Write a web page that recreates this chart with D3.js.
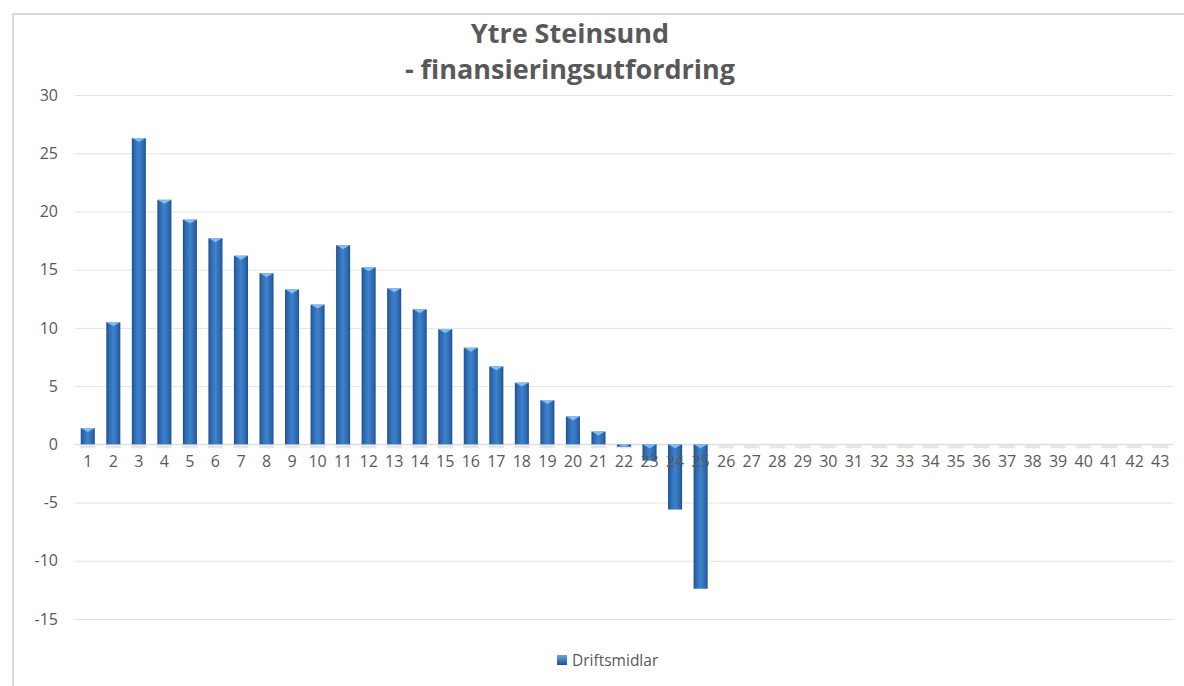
<!DOCTYPE html>
<html>
<head>
<meta charset="utf-8">
<script src="https://cdn.jsdelivr.net/npm/d3@7"></script>
<style>
  body { margin: 0; background: #fff; }
  text { font-family: "Open Sans", Lato, sans-serif; }
</style>
</head>
<body>
<svg id="chart" width="1184" height="686"></svg>
<script>
const TITLE_LINES = ['Ytre Steinsund', '- finansieringsutfordring'];
const SERIES_NAME = 'Driftsmidlar';
const categories = d3.range(1, 44).map(String);
const values = [
  1.4, 10.5, 26.3, 21.0, 19.3, 17.7, 16.2, 14.7, 13.3, 12.0,
  17.1, 15.2, 13.4, 11.6, 9.9, 8.3, 6.7, 5.3, 3.8, 2.4,
  1.1, -0.2, -1.4, -5.6, -12.4, 0, 0, 0, 0, 0,
  0, 0, 0, 0, 0, 0, 0, 0, 0, 0,
  0, 0, 0
];
const yTicks = [-15, -10, -5, 0, 5, 10, 15, 20, 25, 30];

const MARGIN = { left: 75, right: 11, top: 95, bottom: 67 };
const WIDTH = 1184;
const HEIGHT = 686;

const svg = d3.select('#chart');

const defs = svg.append('defs');
const grad = defs.append('linearGradient')
  .attr('id', 'barGrad')
  .attr('x1', '0%').attr('x2', '100%').attr('y1', '0%').attr('y2', '0%');
grad.append('stop').attr('offset', '0%').attr('stop-color', '#1e4f8e');
grad.append('stop').attr('offset', '18%').attr('stop-color', '#2d69b0');
grad.append('stop').attr('offset', '50%').attr('stop-color', '#3e82cc');
grad.append('stop').attr('offset', '82%').attr('stop-color', '#2d69b0');
grad.append('stop').attr('offset', '100%').attr('stop-color', '#1e4f8e');

const legGrad = defs.append('linearGradient')
  .attr('id', 'legGrad')
  .attr('x1', '0%').attr('x2', '0%').attr('y1', '0%').attr('y2', '100%');
legGrad.append('stop').attr('offset', '0%').attr('stop-color', '#6aa8e4');
legGrad.append('stop').attr('offset', '100%').attr('stop-color', '#1e4f8e');

// chart frame (only left and top edges visible in the picture)
svg.append('path')
  .attr('d', `M13,${HEIGHT} V14 H${WIDTH}`)
  .attr('fill', 'none')
  .attr('stroke', '#d9d9d9')
  .attr('stroke-width', 2);

const x = d3.scaleBand()
  .domain(categories)
  .range([MARGIN.left, WIDTH - MARGIN.right])
  .paddingInner(0.45)
  .paddingOuter(0.225);

const y = d3.scaleLinear()
  .domain([-15, 30])
  .range([619, MARGIN.top]);

// gridlines + y labels
const yAxis = d3.axisLeft(y)
  .tickValues(yTicks)
  .tickSize(-(WIDTH - MARGIN.right - MARGIN.left))
  .tickPadding(17)
  .tickFormat(d => String(d));
const gy = svg.append('g')
  .attr('transform', `translate(${MARGIN.left},0)`)
  .call(yAxis);
gy.select('.domain').remove();
gy.selectAll('.tick line').attr('stroke', '#e3e3e3').attr('stroke-width', 1);
gy.selectAll('.tick text')
  .attr('fill', '#595959')
  .style('font-size', '16px');

// baseline shadows
svg.append('g').selectAll('rect')
  .data(categories)
  .join('rect')
  .attr('x', d => x(d) - 1)
  .attr('y', y(0) + 1)
  .attr('width', x.bandwidth() + 2)
  .attr('height', 3)
  .attr('rx', 1.5)
  .attr('fill', '#e6e6e6');

// zero axis line
svg.append('line')
  .attr('x1', MARGIN.left).attr('x2', WIDTH - MARGIN.right)
  .attr('y1', y(0)).attr('y2', y(0))
  .attr('stroke', '#d9d9d9');

// bars
const bars = svg.append('g').selectAll('g')
  .data(values.map((v, i) => ({ cat: categories[i], v })).filter(d => d.v !== 0))
  .join('g');
bars.append('rect')
  .attr('x', d => x(d.cat))
  .attr('y', d => y(Math.max(0, d.v)))
  .attr('width', x.bandwidth())
  .attr('height', d => Math.abs(y(d.v) - y(0)))
  .attr('fill', 'url(#barGrad)');
// top bevel
bars.append('path')
  .attr('d', d => {
    const x0 = x(d.cat);
    const w = x.bandwidth();
    const top = y(Math.max(0, d.v));
    const h = Math.min(4, Math.abs(y(d.v) - y(0)));
    return `M${x0},${top} H${x0 + w} L${x0 + w - 3},${top + h * 0.4} L${x0 + w / 2},${top + h} L${x0 + 3},${top + h * 0.4} Z`;
  })
  .attr('fill', '#8cc3f2')
  .attr('opacity', 0.9);

// x labels
const xAxis = d3.axisBottom(x).tickSize(0).tickPadding(11);
const gx = svg.append('g')
  .attr('transform', `translate(0,${y(0)})`)
  .call(xAxis);
gx.select('.domain').remove();
gx.selectAll('.tick text')
  .attr('fill', '#595959')
  .style('font-size', '16px');

// title
svg.append('g').selectAll('text')
  .data(TITLE_LINES)
  .join('text')
  .attr('x', 570)
  .attr('y', (d, i) => 43 + i * 36)
  .attr('text-anchor', 'middle')
  .attr('fill', '#595959')
  .style('font-size', '27px')
  .style('font-weight', 'bold')
  .text(d => d);

// legend
const leg = svg.append('g').attr('transform', 'translate(557,655)');
leg.append('rect')
  .attr('width', 10).attr('height', 10)
  .attr('fill', 'url(#legGrad)');
leg.append('text')
  .attr('x', 15).attr('y', 11)
  .attr('fill', '#595959')
  .style('font-size', '15.5px')
  .text(SERIES_NAME);
</script>
</body>
</html>
